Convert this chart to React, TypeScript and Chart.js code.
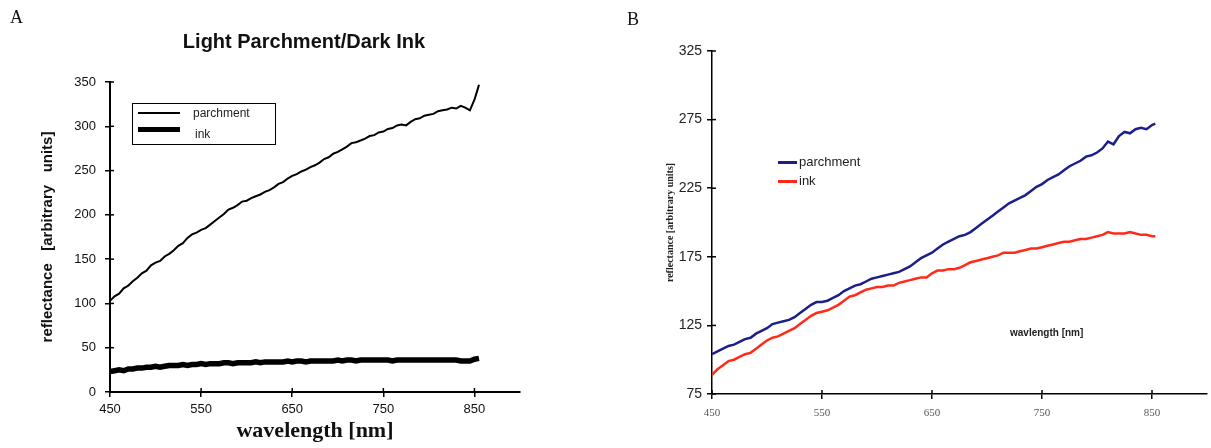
import React, { useEffect, useRef } from 'react';
import { Chart, registerables } from 'chart.js';

Chart.register(...registerables);

// ---------- Panel A: Light Parchment / Dark Ink ----------
const wlAParchment = [
  450, 455, 460, 465, 470, 475, 480, 485, 490, 495,
  500, 505, 510, 515, 520, 525, 530, 535, 540, 545,
  550, 555, 560, 565, 570, 575, 580, 585, 590, 595,
  600, 605, 610, 615, 620, 625, 630, 635, 640, 645,
  650, 655, 660, 665, 670, 675, 680, 685, 690, 695,
  700, 705, 710, 715, 720, 725, 730, 735, 740, 745,
  750, 755, 760, 765, 770, 775, 780, 785, 790, 795,
  800, 805, 810, 815, 820, 825, 830, 835, 840, 845,
  850, 853, 855,
];
const parchmentA = [
  103, 108, 111, 117, 120, 125, 129, 134, 137, 143,
  146, 148, 153, 156, 160, 165, 168, 174, 178, 180,
  183, 185, 189, 193, 197, 201, 206, 208, 211, 215,
  216, 219, 221, 223, 226, 228, 231, 235, 237, 241,
  244, 246, 249, 251, 254, 256, 259, 263, 265, 269,
  271, 274, 277, 281, 282, 284, 286, 289, 290, 293,
  294, 297, 298, 301, 302, 301, 305, 308, 309, 312,
  313, 314, 317, 318, 319, 321, 320, 323, 321, 318,
  330, 340, 347,
];
const wlAInk = [
  450, 455, 460, 465, 470, 475, 480, 485, 490, 495,
  500, 505, 510, 515, 520, 525, 530, 535, 540, 545,
  550, 555, 560, 565, 570, 575, 580, 585, 590, 595,
  600, 605, 610, 615, 620, 625, 630, 635, 640, 645,
  650, 655, 660, 665, 670, 675, 680, 685, 690, 695,
  700, 705, 710, 715, 720, 725, 730, 735, 740, 745,
  750, 755, 760, 765, 770, 775, 780, 785, 790, 795,
  800, 805, 810, 815, 820, 825, 830, 835, 840, 845,
  850, 855,
];
const inkA = [
  23, 24, 25, 24, 26, 26, 27, 27, 28, 28,
  29, 28, 29, 30, 30, 30, 31, 30, 31, 31,
  32, 31, 32, 32, 32, 33, 33, 32, 33, 33,
  33, 33, 34, 33, 34, 34, 34, 34, 34, 35,
  34, 35, 35, 34, 35, 35, 35, 35, 35, 35,
  36, 35, 36, 36, 35, 36, 36, 36, 36, 36,
  36, 36, 35, 36, 36, 36, 36, 36, 36, 36,
  36, 36, 36, 36, 36, 36, 36, 35, 35, 35,
  37, 38,
];
const yTicksA = [0, 50, 100, 150, 200, 250, 300, 350];

// ---------- Panel B ----------
const wlB = [
  450, 455, 460, 465, 470, 475, 480, 485, 490, 495,
  500, 505, 510, 515, 520, 525, 530, 535, 540, 545,
  550, 555, 560, 565, 570, 575, 580, 585, 590, 595,
  600, 605, 610, 615, 620, 625, 630, 635, 640, 645,
  650, 655, 660, 665, 670, 675, 680, 685, 690, 695,
  700, 705, 710, 715, 720, 725, 730, 735, 740, 745,
  750, 755, 760, 765, 770, 775, 780, 785, 790, 795,
  800, 805, 810, 815, 820, 825, 830, 835, 840, 845,
  850, 853,
];
const parchmentB = [
  104, 106, 108, 110, 111, 113, 115, 116, 119, 121,
  123, 126, 127, 128, 129, 131, 134, 137, 140, 142,
  142, 143, 145, 147, 150, 152, 154, 155, 157, 159,
  160, 161, 162, 163, 164, 166, 168, 171, 174, 176,
  178, 181, 184, 186, 188, 190, 191, 193, 196, 199,
  202, 205, 208, 211, 214, 216, 218, 220, 223, 226,
  228, 231, 233, 235, 238, 241, 243, 245, 248, 249,
  251, 254, 259, 257, 263, 266, 265, 268, 269, 268,
  271, 272,
];
const inkB = [
  89, 93, 96, 99, 100, 102, 104, 105, 108, 111,
  114, 116, 117, 119, 121, 123, 126, 129, 132, 134,
  135, 136, 138, 140, 143, 146, 147, 149, 151, 152,
  153, 153, 154, 154, 156, 157, 158, 159, 160, 160,
  163, 165, 165, 166, 166, 167, 169, 171, 172, 173,
  174, 175, 176, 178, 178, 178, 179, 180, 181, 181,
  182, 183, 184, 185, 186, 186, 187, 188, 188, 189,
  190, 191, 193, 192, 192, 192, 193, 192, 191, 191,
  190, 190,
];
const yTicksB = [75, 125, 175, 225, 275, 325];

const xTickLabels = [450, 550, 650, 750, 850];

const SANS = '"Liberation Sans", Arial, sans-serif';
const SERIF = '"Liberation Serif", "Times New Roman", serif';

const toXY = (xs: number[], ys: number[]) => xs.map((x, i) => ({ x, y: ys[i] }));

const innerTicks = {
  id: 'innerTicks',
  afterDatasetsDraw(chart: any, _args: any, opts: any) {
    const { ctx, chartArea } = chart;
    const len = opts.length ?? 4;
    ctx.save();
    ctx.strokeStyle = '#000';
    ctx.lineWidth = opts.width ?? 1.5;
    const xs = chart.scales.x;
    const ys = chart.scales.y;
    xs.ticks.forEach((t: any) => {
      const px = xs.getPixelForValue(t.value);
      ctx.beginPath();
      ctx.moveTo(px, chartArea.bottom);
      ctx.lineTo(px, chartArea.bottom - len);
      ctx.stroke();
    });
    ys.ticks.forEach((t: any) => {
      const py = ys.getPixelForValue(t.value);
      ctx.beginPath();
      ctx.moveTo(chartArea.left, py);
      ctx.lineTo(chartArea.left + len, py);
      ctx.stroke();
    });
    ctx.restore();
  },
};

function keepTicks(values: number[]) {
  return (s: any) => {
    s.ticks = values.map((v) => ({ value: v }));
  };
}

export default function App() {
  const refA = useRef<HTMLCanvasElement>(null);
  const refB = useRef<HTMLCanvasElement>(null);

  useEffect(() => {
    const chartA = new Chart(refA.current as HTMLCanvasElement, {
      type: 'line',
      data: {
        datasets: [
          {
            label: 'parchment',
            data: toXY(wlAParchment, parchmentA),
            borderColor: '#000',
            borderWidth: 2,
            pointRadius: 0,
            tension: 0,
          },
          {
            label: 'ink',
            data: toXY(wlAInk, inkA),
            borderColor: '#000',
            borderWidth: 5.5,
            pointRadius: 0,
            tension: 0,
          },
        ],
      },
      options: {
        responsive: false,
        animation: false,
        events: [],
        layout: { padding: { left: 29, right: 80, top: 82, bottom: 2 } },
        plugins: {
          legend: { display: false },
          tooltip: { enabled: false },
          innerTicks: { length: 4, width: 1.5 },
        } as any,
        scales: {
          x: {
            type: 'linear',
            min: 450,
            max: 900,
            afterBuildTicks: keepTicks(xTickLabels),
            afterFit: (s: any) => {
              s.height = 54;
            },
            ticks: {
              color: '#111',
              font: { family: SANS, size: 13 },
              padding: 5,
              maxRotation: 0,
              autoSkip: false,
            },
            grid: { drawOnChartArea: false, color: '#000', tickLength: 5, lineWidth: 1.5 },
            border: { color: '#000', width: 2 },
            title: {
              display: true,
              text: 'wavelength [nm]',
              color: '#111',
              font: { family: SERIF, size: 22, weight: 'bold' },
              padding: { top: 0, bottom: 1 },
            },
          },
          y: {
            type: 'linear',
            min: 0,
            max: 350,
            afterBuildTicks: keepTicks(yTicksA),
            afterFit: (s: any) => {
              s.width = 81;
            },
            ticks: {
              color: '#111',
              font: { family: SANS, size: 13 },
              padding: 9,
              autoSkip: false,
            },
            grid: { drawOnChartArea: false, color: '#000', tickLength: 5, lineWidth: 1.5 },
            border: { color: '#000', width: 2 },
            title: {
              display: true,
              text: 'reflectance   [arbitrary   units]',
              color: '#111',
              font: { family: SANS, size: 15, weight: 'bold' },
              padding: { top: 10, bottom: 0 },
            },
          },
        },
      },
      plugins: [innerTicks],
    } as any);

    const chartB = new Chart(refB.current as HTMLCanvasElement, {
      type: 'line',
      data: {
        datasets: [
          {
            label: 'parchment',
            data: toXY(wlB, parchmentB),
            borderColor: '#1c1f8a',
            borderWidth: 2.5,
            pointRadius: 0,
            tension: 0,
          },
          {
            label: 'ink',
            data: toXY(wlB, inkB),
            borderColor: '#ff2a1a',
            borderWidth: 2.5,
            pointRadius: 0,
            tension: 0,
          },
        ],
      },
      options: {
        responsive: false,
        animation: false,
        events: [],
        layout: { padding: { left: 55, right: 4, top: 51, bottom: 0 } },
        plugins: {
          legend: { display: false },
          tooltip: { enabled: false },
          innerTicks: { length: 4, width: 1.5 },
        } as any,
        scales: {
          x: {
            type: 'linear',
            min: 450,
            max: 900,
            afterBuildTicks: keepTicks(xTickLabels),
            afterFit: (s: any) => {
              s.height = 54;
            },
            ticks: {
              color: '#555',
              font: { family: SERIF, size: 11 },
              padding: 8,
              maxRotation: 0,
              autoSkip: false,
            },
            grid: { drawOnChartArea: false, color: '#000', tickLength: 5, lineWidth: 1.5 },
            border: { color: '#000', width: 1.5 },
          },
          y: {
            type: 'linear',
            min: 75,
            max: 325,
            afterBuildTicks: keepTicks(yTicksB),
            afterFit: (s: any) => {
              s.width = 57;
            },
            ticks: {
              color: '#222',
              font: { family: SANS, size: 14 },
              padding: 5,
              autoSkip: false,
            },
            grid: { drawOnChartArea: false, color: '#000', tickLength: 5, lineWidth: 1.5 },
            border: { color: '#000', width: 1.5 },
            title: {
              display: true,
              text: 'reflectance [arbitrary units]',
              color: '#222',
              font: { family: SERIF, size: 10, weight: 'bold' },
              padding: { top: 9, bottom: 0 },
            },
          },
        },
      },
      plugins: [innerTicks],
    } as any);

    return () => {
      chartA.destroy();
      chartB.destroy();
    };
  }, []);

  const abs = (s: React.CSSProperties): React.CSSProperties => ({ position: 'absolute', ...s });

  return (
    <div style={{ position: 'fixed', left: 0, top: 0, width: 1211, height: 448, background: '#fff', overflow: 'hidden' }}>
      <canvas ref={refA} width={600} height={448} style={abs({ left: 0, top: 0, width: 600, height: 448 })} />
      <canvas ref={refB} width={611} height={448} style={abs({ left: 600, top: 0, width: 611, height: 448 })} />

      {/* Panel labels */}
      <div style={abs({ left: 10, top: 7, fontFamily: SERIF, fontSize: 18, lineHeight: '20px', color: '#111' })}>A</div>
      <div style={abs({ left: 627, top: 9, fontFamily: SERIF, fontSize: 18, lineHeight: '20px', color: '#111' })}>B</div>

      {/* Panel A title */}
      <div
        style={abs({
          left: 0,
          width: 608,
          top: 30,
          textAlign: 'center',
          fontFamily: SANS,
          fontWeight: 'bold',
          fontSize: 20,
          lineHeight: '22px',
          color: '#111',
        })}
      >
        Light Parchment/Dark Ink
      </div>

      {/* Panel A legend */}
      <div style={abs({ left: 132, top: 103, width: 142, height: 40, border: '1.5px solid #000' })} />
      <div style={abs({ left: 138, top: 112, width: 42, height: 1.5, background: '#000' })} />
      <div style={abs({ left: 138, top: 126.5, width: 42, height: 5, background: '#000' })} />
      <div style={abs({ left: 193, top: 105, fontFamily: SANS, fontSize: 12, lineHeight: '16px', color: '#222' })}>parchment</div>
      <div style={abs({ left: 195, top: 126, fontFamily: SANS, fontSize: 12, lineHeight: '16px', color: '#222' })}>ink</div>

      {/* Panel B legend */}
      <div style={abs({ left: 778, top: 161, width: 19, height: 2.5, background: '#1c1f8a' })} />
      <div style={abs({ left: 778, top: 180, width: 19, height: 2.5, background: '#ff2a1a' })} />
      <div style={abs({ left: 799, top: 153, fontFamily: SANS, fontSize: 13, lineHeight: '18px', color: '#222' })}>parchment</div>
      <div style={abs({ left: 799, top: 172, fontFamily: SANS, fontSize: 13, lineHeight: '18px', color: '#222' })}>ink</div>

      {/* Panel B x-axis title (placed inside the plot as in the source) */}
      <div style={abs({ left: 1010, top: 327, fontFamily: SANS, fontWeight: 'bold', fontSize: 10, lineHeight: '12px', color: '#222' })}>
        wavlength [nm]
      </div>
    </div>
  );
}
